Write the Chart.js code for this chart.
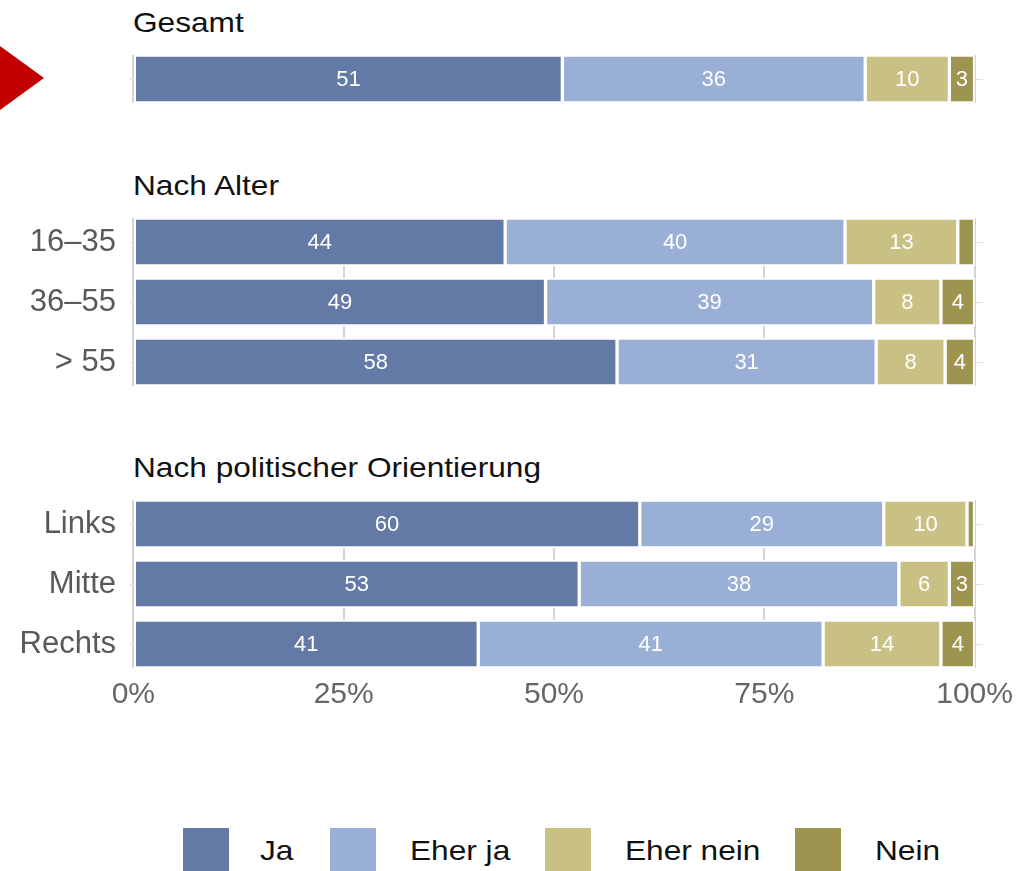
<!DOCTYPE html>
<html>
<head>
<meta charset="utf-8">
<script src="https://cdn.jsdelivr.net/npm/chart.js@4.4.0/dist/chart.umd.min.js"></script>
<style>
  body { margin: 0; width: 1020px; height: 871px; overflow: hidden; background: #fff; position: relative;
         font-family: "Liberation Sans", Arial, sans-serif; }
  canvas { position: absolute; left: 0; }
  .head { position: absolute; left: 133px; font-size: 28px; line-height: 28px; color: #111; white-space: nowrap;
          transform: scaleX(1.13); transform-origin: left center; }
  .arrow { position: absolute; left: 0; top: 46px; width: 44px; height: 64px; background: #c30000;
           clip-path: polygon(0 0, 100% 50%, 0 100%); }
  .sw { position: absolute; top: 828px; width: 46px; height: 46px; }
  .lt { position: absolute; top: 837px; font-size: 28px; line-height: 28px; color: #111; white-space: nowrap;
        transform: scaleX(1.13); transform-origin: left center; }
</style>
</head>
<body>
<div class="arrow"></div>
<div class="head" style="top:9px">Gesamt</div>
<div class="head" style="top:172px">Nach Alter</div>
<div class="head" style="top:454px">Nach politischer Orientierung</div>

<canvas id="chart-gesamt" width="1020" height="48" style="top:55px"></canvas>
<canvas id="chart-alter" width="1020" height="168" style="top:218px"></canvas>
<canvas id="chart-orient" width="1020" height="218" style="top:500px"></canvas>

<div class="sw" style="left:183px;background:#637aa7"></div><div class="lt" style="left:260px">Ja</div>
<div class="sw" style="left:330px;background:#9aafd6"></div><div class="lt" style="left:410px">Eher ja</div>
<div class="sw" style="left:545px;background:#c8c183"></div><div class="lt" style="left:625px">Eher nein</div>
<div class="sw" style="left:795px;background:#9c944f"></div><div class="lt" style="left:875px">Nein</div>

<script>
const seriesNames = ['Ja', 'Eher ja', 'Eher nein', 'Nein'];
const seriesColors = ['#637aa7', '#9aafd6', '#c8c183', '#9c944f'];
const xTicks = [0, 25, 50, 75, 100];

// Gesamt
const gesamtRows = [''];
const jaGesamt = [51];
const eherJaGesamt = [36];
const eherNeinGesamt = [10];
const neinGesamt = [3];

// Nach Alter
const alterRows = ['16–35', '36–55', '> 55'];
const jaAlter = [44.2, 49, 57.5];
const eherJaAlter = [40.4, 39, 30.8];
const eherNeinAlter = [13.4, 8, 8.2];
const neinAlter = [2, 4, 3.5];

// Nach politischer Orientierung
const orientRows = ['Links', 'Mitte', 'Rechts'];
const jaOrient = [60.2, 53, 41];
const eherJaOrient = [29, 38, 41];
const eherNeinOrient = [9.9, 6, 14];
const neinOrient = [0.9, 3, 4];

const fontFamily = '"Liberation Sans", Arial, sans-serif';

// white numbers in the middle of each segment
const valueLabels = {
    id: 'valueLabels',
    afterDatasetsDraw(chart) {
        const ctx = chart.ctx;
        ctx.save();
        ctx.font = '22px ' + fontFamily;
        ctx.fillStyle = '#ffffff';
        ctx.textAlign = 'center';
        ctx.textBaseline = 'middle';
        chart.data.datasets.forEach((ds, i) => {
            chart.getDatasetMeta(i).data.forEach((bar, j) => {
                const v = ds.data[j].x;
                if (v < 2.5) return; // too narrow for a label
                ctx.fillText(Math.round(v), (bar.x + bar.base) / 2, bar.y + 1);
            });
        });
        ctx.restore();
    }
};

function makeChart(id, rows, values, showAxis) {
    new Chart(document.getElementById(id), {
        type: 'bar',
        data: {
            datasets: seriesNames.map((name, i) => ({
                label: name,
                data: values[i].map((v, j) => ({ x: v, y: j })),
                backgroundColor: seriesColors[i],
                borderColor: '#ffffff',
                borderWidth: 2,
                borderSkipped: false,
                barThickness: 48
            }))
        },
        options: {
            indexAxis: 'y',
            responsive: false,
            animation: false,
            layout: { padding: { right: 37 } },
            plugins: {
                legend: { display: false },
                tooltip: { enabled: false }
            },
            scales: {
                x: {
                    type: 'linear',
                    stacked: true,
                    min: -0.4,
                    max: 101,
                    afterBuildTicks: axis => { axis.ticks = xTicks.map(v => ({ value: v })); },
                    afterFit: axis => {
                        axis.paddingLeft = 0;
                        axis.paddingRight = 0;
                        axis.height = showAxis ? 50 : 0;
                    },
                    grid: { color: '#d4d4d4', lineWidth: 2, drawTicks: false },
                    border: { display: false },
                    ticks: {
                        display: showAxis,
                        padding: 9,
                        color: '#666666',
                        font: { size: 30, family: fontFamily },
                        callback: v => v + '%'
                    }
                },
                y: {
                    type: 'linear',
                    stacked: true,
                    reverse: true,
                    offset: false,
                    min: -0.4,
                    max: rows.length - 0.6,
                    afterBuildTicks: axis => { axis.ticks = rows.map((r, j) => ({ value: j })); },
                    afterFit: axis => {
                        axis.width = 130;
                        axis.paddingTop = 0;
                        axis.paddingBottom = 0;
                    },
                    grid: { color: '#dddddd', lineWidth: 1, drawTicks: false, offset: false },
                    border: { display: false },
                    ticks: {
                        padding: 14,
                        color: '#595959',
                        font: { size: 31, family: fontFamily },
                        callback: v => rows[v]
                    }
                }
            }
        },
        plugins: [valueLabels]
    });
}

makeChart('chart-gesamt', gesamtRows, [jaGesamt, eherJaGesamt, eherNeinGesamt, neinGesamt], false);
makeChart('chart-alter', alterRows, [jaAlter, eherJaAlter, eherNeinAlter, neinAlter], false);
makeChart('chart-orient', orientRows, [jaOrient, eherJaOrient, eherNeinOrient, neinOrient], true);
</script>
</body>
</html>
